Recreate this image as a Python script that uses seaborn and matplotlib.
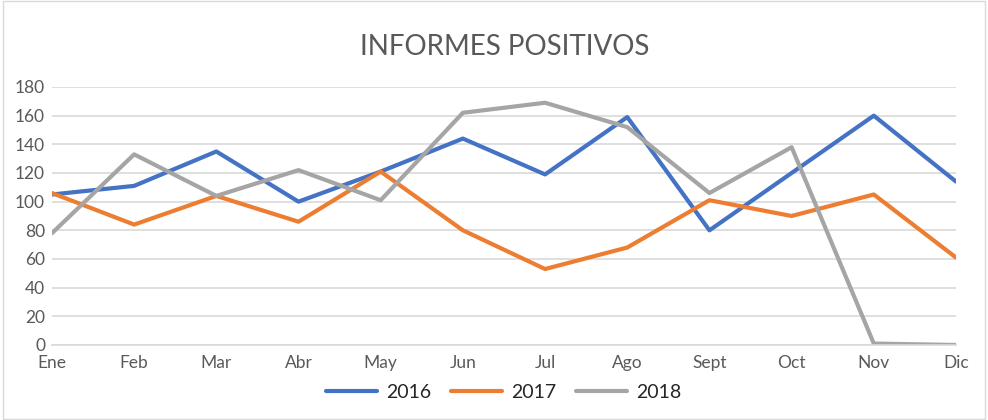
import numpy as np
import pandas as pd
import matplotlib.pyplot as plt
import seaborn as sns

# data
meses = ["Ene", "Feb", "Mar", "Abr", "May", "Jun", "Jul", "Ago", "Sept", "Oct", "Nov", "Dic"]
v2016 = [105, 111, 135, 100, 121, 144, 119, 159, 80, 120, 160, 114]
v2017 = [106, 84, 104, 86, 121, 80, 53, 68, 101, 90, 105, 61]
v2018 = [78, 133, 104, 122, 101, 162, 169, 152, 106, 138, 1, 0]
years = ["2016", "2017", "2018"]
colores = ["#4472C4", "#ED7D31", "#A5A5A5"]

df = pd.DataFrame({
    "mes": meses * 3,
    "x": list(range(len(meses))) * 3,
    "valor": v2016 + v2017 + v2018,
    "anio": [y for y in years for _ in meses],
})

sns.set_style("white")
plt.rcParams["font.family"] = ["Lato", "DejaVu Sans"]

fig = plt.figure(figsize=(9.88, 4.2), dpi=100)
ax = fig.add_axes([0.0526, 0.1786, 0.915, 0.6143])

sns.lineplot(data=df, x="x", y="valor", hue="anio", palette=colores,
             linewidth=3, ax=ax, legend=False)

ax.set_xlim(0, len(meses) - 1)
ax.set_ylim(0, 180)
ax.set_yticks(range(0, 181, 20))
ax.set_xticks(range(len(meses)))
ax.set_xticklabels(meses)
ax.set_xlabel("")
ax.set_ylabel("")
ax.tick_params(axis="both", labelsize=12.5, colors="#595959", length=0)
ax.tick_params(axis="x", pad=7)
ax.tick_params(axis="y", pad=5)
ax.grid(axis="y", color="#D9D9D9", linewidth=1.2)
ax.set_axisbelow(True)
for s in ["top", "right", "left"]:
    ax.spines[s].set_visible(False)
ax.spines["bottom"].set_color("#D9D9D9")
ax.spines["bottom"].set_linewidth(1.2)

fig.text(0.511, 0.888, "INFORMES POSITIVOS", ha="center", va="center",
         fontsize=20, color="#595959")

handles = [plt.Line2D([0], [0], color=c, linewidth=3) for c in colores]
fig.legend(handles, years, loc="center", bbox_to_anchor=(0.51, 0.065), ncol=3,
           frameon=False, fontsize=14, handlelength=2.6, columnspacing=1.0,
           handletextpad=0.5)

# thin outer border like the original chart area
fig.patches.append(plt.Rectangle((0.003, 0.003), 0.994, 0.994, transform=fig.transFigure,
                                 fill=False, edgecolor="#D9D9D9", linewidth=1))

fig.savefig("out.png", dpi=100)
